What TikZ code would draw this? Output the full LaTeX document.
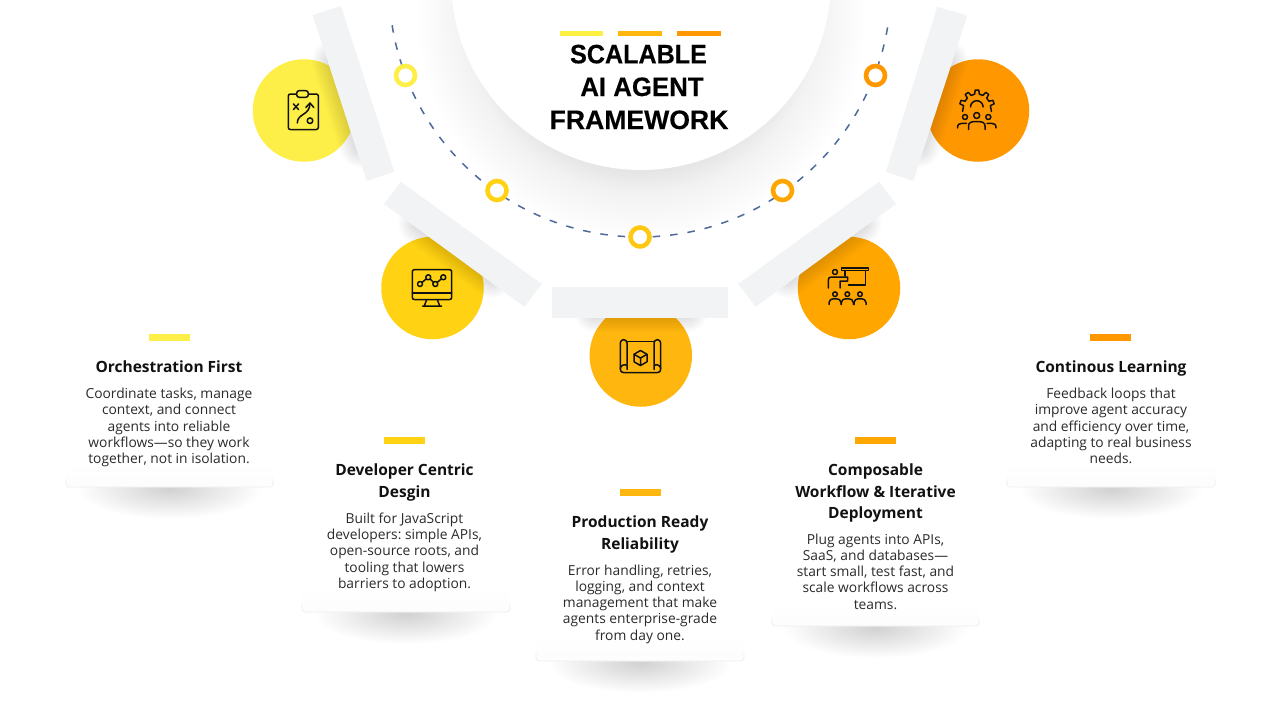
\documentclass[tikz,border=0pt]{standalone}
\usepackage{fontspec}
\setmainfont{Open Sans}
\newfontfamily\titlefont{Liberation Sans}[BoldFeatures={FakeBold=0.3}]
\usetikzlibrary{shapes.geometric}
\definecolor{cA}{HTML}{FDEE48}
\definecolor{cB}{HTML}{FFD314}
\definecolor{cC}{HTML}{FFB70F}
\definecolor{cD}{HTML}{FFA600}
\definecolor{cE}{HTML}{FF9800}
\definecolor{barfill}{HTML}{F1F3F5}
\definecolor{dashcol}{HTML}{4F6A9A}
\definecolor{inkdark}{HTML}{111111}
\definecolor{bodyink}{HTML}{2A2A2A}
\pgfdeclareradialshading{mainshadow}{\pgfpointorigin}{rgb(0bp)=(.875,.875,.875); rgb(15.5bp)=(.875,.875,.875); rgb(19bp)=(.95,.95,.95); rgb(24bp)=(1,1,1); rgb(50bp)=(1,1,1)}
\pgfdeclareradialshading{cardshadow}{\pgfpointorigin}{rgb(0bp)=(.82,.82,.82); rgb(12.5bp)=(.91,.91,.91); rgb(25bp)=(1,1,1); rgb(50bp)=(1,1,1)}
\tikzset{
  disc/.style={circle,inner sep=0pt,minimum size=102.5pt,fill=#1},
  ring/.style={circle,inner sep=0pt,minimum size=19pt,draw=#1,line width=4.6pt,fill=white},
  bar/.style={fill=barfill,draw=none},
  rulemark/.style={fill=#1,draw=none},
  cardhead/.style={anchor=north,inner sep=0pt,align=center,text=inkdark,font=\fontsize{15.5}{21.4}\selectfont\bfseries},
  cardbody/.style={anchor=north,inner sep=0pt,align=center,text=bodyink,font=\fontsize{13.8}{16.2}\selectfont\frenchspacing},
  titleline/.style={anchor=base,inner sep=0pt,text=black,font=\titlefont\fontsize{26.6}{30}\selectfont\bfseries},
  icon/.style={draw=inkdark,line width=1.5pt,line cap=round,line join=round,fill=none},
}
\newcommand{\softshadow}[2]{%
  \foreach \w in {3,6,...,42}{\draw[black,opacity=.013,line width=\w pt,line cap=round] #1 -- #2;}%
}
\newcommand{\cardbox}[3]{% left, right, bottom
  \shade[shading=cardshadow] ({(#1+#2)/2},{#3+2}) ellipse [x radius=92,y radius=30];
  \fill[white,rounded corners=3pt] (#1,{#3-60}) rectangle (#2,#3);
  \shade[top color=white,bottom color=black!1,rounded corners=3pt] (#1,{#3-26}) rectangle (#2,#3);
  \draw[black!7,line width=.7pt,rounded corners=3pt] (#1,{#3-8}) -- (#1,#3) -- (#2,#3) -- (#2,{#3-8});
}
\begin{document}
\begin{tikzpicture}[x=1pt,y=-1pt]
\useasboundingbox (0,0) rectangle (1280,720);
\fill[white] (0,0) rectangle (1280,720);
\begin{scope}
\clip (0,0) rectangle (1280,720);
% central shadow
\shade[shading=mainshadow] (641,15) circle [radius=235];
% dashed arc
\draw[dashcol,line width=1.5pt,dash pattern=on 7.5pt off 10pt] plot[domain=171:9,samples=120] ({640+251*cos(\x)},{-14+251*sin(\x)});
% rings
\node[ring=cA] (r1) at (405.5,75.5) {};
\node[ring=cB] (r2) at (497,190.5) {};
\node[ring=cB!60!cC] (r3) at (640,237) {};
\node[ring=cD] (r4) at (782.5,190.5) {};
\node[ring=cE] (r5) at (875.5,75.5) {};
% discs
\node[disc=cA] (d1) at (304,110.5) {};
\node[disc=cB] (d2) at (432.5,288) {};
\node[disc=cC] (d3) at (640.8,355.5) {};
\node[disc=cD] (d4) at (849,288) {};
\node[disc=cE] (d5) at (978,110.5) {};
% bar shadows
\softshadow{(333,61)}{(360.7,146.5)}
\softshadow{(419.2,223.6)}{(492,277)}
\softshadow{(595,311)}{(687,311)}
\softshadow{(860.8,223.6)}{(788,277)}
\softshadow{(947,61)}{(919.3,146.5)}
% bars
\fill[bar] (312.7,15) -- (341,6) -- (394.3,171.7) -- (366.7,181) -- cycle;
\fill[bar] (400.7,181.7) -- (541.7,284) -- (524.3,306.7) -- (384,204) -- cycle;
\fill[bar] (552,287) rectangle (728,317.5);
\fill[bar] (879.3,181.7) -- (896,204) -- (755.7,306.7) -- (738.3,284) -- cycle;
\fill[bar] (937.3,6.7) -- (967.3,15.7) -- (913.3,181) -- (886,171.7) -- cycle;
% central circle
\fill[white] (641,-20) circle [radius=190];
% title
\fill[rulemark=cA!90!yellow] (560,31.3) rectangle (602.7,36);
\fill[rulemark=cC] (618.3,31.3) rectangle (662,36);
\fill[rulemark=cE] (677,31.3) rectangle (720.7,36);
\node[titleline,xscale=.945] (t1) at (638.5,63.3) {SCALABLE};
\node[titleline,xscale=.97] (t2) at (642,96) {AI AGENT};
\node[titleline] (t3) at (639,129) {FRAMEWORK};
% cards
\cardbox{66}{273}{487}
\cardbox{302}{510}{612}
\cardbox{536}{744}{661}
\cardbox{772}{979}{626}
\cardbox{1007}{1215}{487}
% rules
\fill[rulemark=cA] (149,334) rectangle (189.5,341);
\fill[rulemark=cB] (384,437) rectangle (425,444);
\fill[rulemark=cC] (620,489) rectangle (660.5,496);
\fill[rulemark=cD] (855,437) rectangle (896,444);
\fill[rulemark=cE] (1090,334) rectangle (1131,341);
% card texts
\node[cardhead] (h1) at (169,361) {Orchestration First};
\node[cardbody] (b1) at (169,388) {Coordinate tasks, manage\\context, and connect\\agents into reliable\\workflows—so they work\\together, not in isolation.};
\node[cardhead] (h2) at (404.5,464) {Developer Centric\\Desgin};
\node[cardbody] (b2) at (404.5,512.7) {Built for JavaScript\\developers: simple APIs,\\open-source roots, and\\tooling that lowers\\barriers to adoption.};
\node[cardhead] (h3) at (640,516) {Production Ready\\Reliability};
\node[cardbody] (b3) at (640,564.7) {Error handling, retries,\\logging, and context\\management that make\\agents enterprise-grade\\from day one.};
\node[cardhead] (h4) at (875.5,464) {Composable\\Workflow \& Iterative\\Deployment};
\node[cardbody] (b4) at (875.5,533.7) {Plug agents into APIs,\\SaaS, and databases—\\start small, test fast, and\\scale workflows across\\teams.};
\node[cardhead] (h5) at (1111,361) {Continous Learning};
\node[cardbody] (b5) at (1111,388) {Feedback loops that\\improve agent accuracy\\and efficiency over time,\\adapting to real business\\needs.};
% icon 1: clipboard
\draw[icon,rounded corners=2pt] (296.7,94) -- (288.3,94) -- (288.3,129.5) -- (318.3,129.5) -- (318.3,94) -- (308.3,94);
\draw[icon,rounded corners=2.5pt] (296.7,97.3) rectangle (308.3,90.7);
\draw[icon] (293.5,104) -- (298.5,109.5) (298.5,104) -- (293.5,109.5);
\draw[icon] (297.3,123) .. controls (297.5,113) and (309.5,116) .. (310,103.5);
\draw[icon] (305.8,107.5) -- (310,103) -- (313.8,107.5);
\draw[icon] (310,120.7) circle [radius=2.8];
% icon 2: monitor
\draw[icon,rounded corners=2pt] (412.3,269.7) rectangle (451.7,299.5);
\draw[icon] (412.3,293) -- (451.7,293);
\draw[icon] (426.7,299.5) -- (424.3,306) (437.3,299.5) -- (439.7,306) (422.5,306) -- (441.5,306);
\draw[icon] (420,284) -- (428.3,277.3) -- (435.3,284) -- (443.3,277.3);
\foreach \p in {(420,284),(428.3,277.3),(435.3,284),(443.3,277.3)}{\filldraw[icon,fill=cB] \p circle [radius=2.5];}
% icon 3: blueprint
\draw[icon] (627,364.5) -- (627,343) arc[start angle=0,end angle=-180,radius=3.35] -- (620.3,369) .. controls (620.3,371.5) and (621.5,372.5) .. (623.5,372.5) -- (657.5,372.5) .. controls (659.5,372.5) and (660.7,371.5) .. (660.7,369) -- (660.7,343) arc[start angle=0,end angle=-180,radius=3.35] -- (654,364.5);
\draw[icon] (627,341.5) -- (654,341.5);
\draw[icon] (620.3,368.5) .. controls (620.3,365.5) and (625,363.5) .. (627,365.5) -- (627,369.5);
\draw[icon] (660.7,368.5) .. controls (660.7,365.5) and (656,363.5) .. (654,365.5) -- (654,369.5);
\draw[icon] (640.5,350.5) -- (647,354.3) -- (647,361.8) -- (640.5,365.5) -- (634,361.8) -- (634,354.3) -- cycle;
\draw[icon] (634,354.3) -- (640.5,358) -- (647,354.3) (640.5,358) -- (640.5,365.5);
% icon 4: presentation
\draw[icon] (841.7,268) -- (868.3,268) -- (868.3,270.7) -- (841.7,270.7) -- cycle;
\draw[icon] (865.7,270.7) -- (865.7,285) -- (848.5,285);
\draw[icon] (845,270.7) -- (845,276);
\draw[icon] (835,272) circle [radius=2.5];
\draw[icon] (828.3,288) -- (828.3,280) .. controls (828.3,277.8) and (829.5,277) .. (831.5,277) -- (847.5,277) -- (847.5,281) -- (840,281) -- (840,288);
\foreach \x in {835,847.3,860}{
  \draw[icon] (\x,294.2) circle [radius=2.3];
  \draw[icon] ({\x-6},304.5) -- ({\x-6},302.5) .. controls ({\x-6},300) and ({\x-4},298.8) .. (\x,298.8) .. controls ({\x+4},298.8) and ({\x+6},300) .. ({\x+6},302.5) -- ({\x+6},304.5);
}
% icon 5: gear and people
\draw[icon] (962.5,111.5) \foreach \a in {198,234,270,306,342}{ -- ({977+13.5*cos(\a-10)},{107.5+13.5*sin(\a-10)}) -- ({977+17.5*cos(\a-6)},{107.5+17.5*sin(\a-6)}) -- ({977+17.5*cos(\a+6)},{107.5+17.5*sin(\a+6)}) -- ({977+13.5*cos(\a+10)},{107.5+13.5*sin(\a+10)}) } -- (991.5,111.5);
\draw[icon] (970.5,107) arc[start angle=180,end angle=360,radius=6.3];
\draw[icon] (965,117) circle [radius=2.5];
\draw[icon] (976.7,115.5) circle [radius=3];
\draw[icon] (988.3,117) circle [radius=2.5];
\draw[icon] (957.5,128) .. controls (957.5,124.5) and (959,123.3) .. (962,123.3) -- (966.5,123.3);
\draw[icon] (968.5,129.5) -- (968.5,126) .. controls (968.5,122.5) and (971,121.5) .. (976.7,121.5) .. controls (982.5,121.5) and (985,122.5) .. (985,126) -- (985,129.5);
\draw[icon] (996,128) .. controls (996,124.5) and (994.5,123.3) .. (991.5,123.3) -- (987,123.3);
\end{scope}
\end{tikzpicture}
\end{document}
